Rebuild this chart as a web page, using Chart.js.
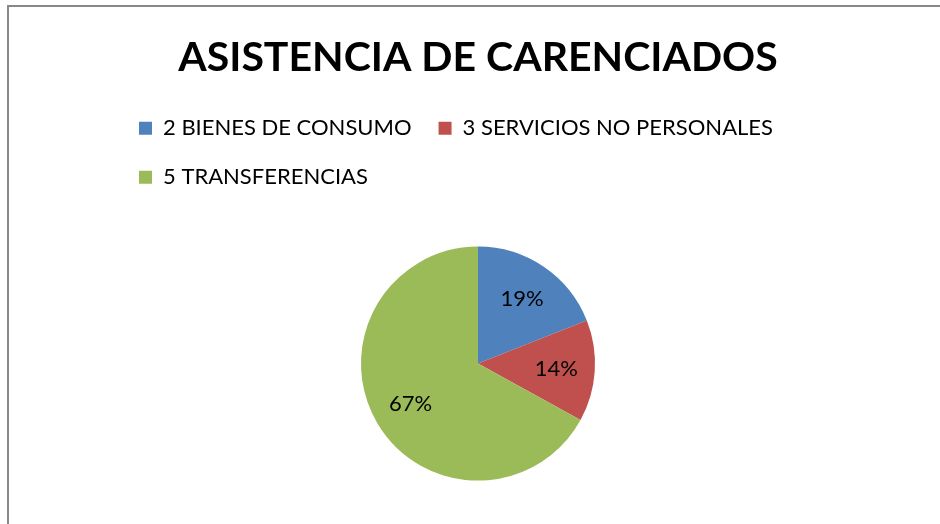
<!DOCTYPE html>
<html>
<head>
<meta charset="utf-8">
<script src="https://cdn.jsdelivr.net/npm/chart.js@4"></script>
<style>
    html, body { margin: 0; padding: 0; background: #fff; overflow: hidden; }
    #marco {
        position: absolute; left: 7px; top: 5px; right: 0; bottom: -5px;
        border-left: 2px solid #888; border-top: 2px solid #888;
    }
</style>
</head>
<body>
<div id="marco"><canvas id="grafico"></canvas></div>
<script>
const categorias = ["2 BIENES DE CONSUMO", "3 SERVICIOS NO PERSONALES", "5 TRANSFERENCIAS"];
const porcentajes = [19, 14, 67];
const colores = ["#4F81BD", "#C0504D", "#9BBB59"];

const FUENTE = 'Lato, "Open Sans", sans-serif';

// Etiquetas de porcentaje dentro de cada porción
const etiquetasPie = {
    id: 'etiquetasPie',
    afterDatasetsDraw(chart) {
        const ctx = chart.ctx;
        const meta = chart.getDatasetMeta(0);
        const datos = chart.data.datasets[0].data;
        const total = datos.reduce((a, b) => a + b, 0);
        ctx.save();
        ctx.font = '22px ' + FUENTE;
        ctx.fillStyle = '#000';
        ctx.textAlign = 'center';
        ctx.textBaseline = 'middle';
        meta.data.forEach((arco, i) => {
            const medio = (arco.startAngle + arco.endAngle) / 2;
            const r = arco.outerRadius * 0.67;
            const x = arco.x + Math.cos(medio) * r;
            const y = arco.y + Math.sin(medio) * r;
            ctx.fillText(Math.round(datos[i] / total * 100) + '%', x, y);
        });
        ctx.restore();
    }
};

new Chart(document.getElementById('grafico'), {
    type: 'pie',
    data: {
        labels: categorias,
        datasets: [{
            data: porcentajes,
            backgroundColor: colores,
            borderWidth: 0,
            radius: 117
        }]
    },
    options: {
        responsive: true,
        maintainAspectRatio: false,
        animation: false,
        layout: {
            padding: { left: 103, right: 96, top: 0, bottom: 0 }
        },
        plugins: {
            title: {
                display: true,
                text: 'ASISTENCIA DE CARENCIADOS',
                color: '#000',
                font: { family: FUENTE, size: 41, weight: 'bold' },
                padding: { top: 26, bottom: 8 }
            },
            legend: {
                position: 'top',
                align: 'start',
                labels: {
                    color: '#000',
                    font: { family: FUENTE, size: 22 },
                    boxWidth: 13,
                    boxHeight: 13,
                    padding: 27
                }
            },
            tooltip: { enabled: false }
        }
    },
    plugins: [etiquetasPie]
});
</script>
</body>
</html>
